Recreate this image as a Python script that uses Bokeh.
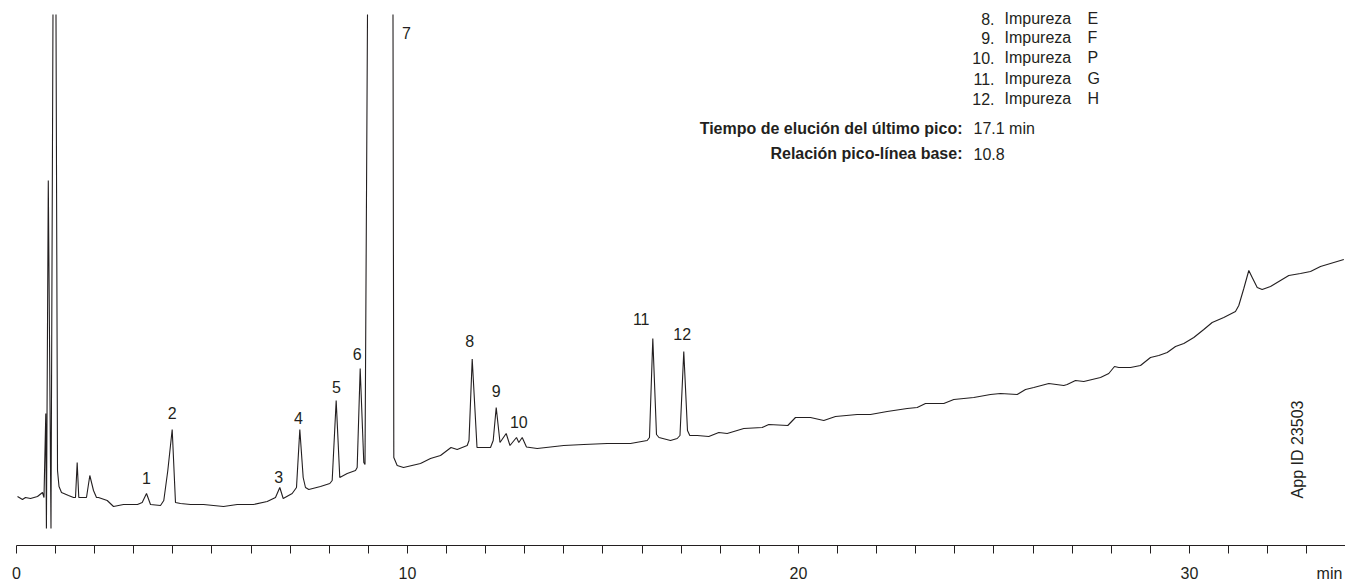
import math
from bokeh.plotting import figure
from bokeh.models import Range1d, FixedTicker, Label, ColumnDataSource
from bokeh.core.properties import value
from bokeh.embed import file_html
from bokeh.resources import INLINE

nan = float("nan")

# retention time (min) and detector signal (arbitrary units); NaN = peak off scale
time_min = [
    0.026, 0.153, 0.230, 0.358, 0.537, 0.665, 0.703, 0.749, 0.765, 0.813,
    0.882, 0.933, nan,
    1.010, 1.049, 1.087, 1.151, 1.330, 1.458, 1.509, 1.552, 1.593, 1.688,
    1.790, 1.875, 1.969, 2.046, 2.097, 2.320, 2.481, 2.737, 3.095, 3.215,
    3.325, 3.427, 3.683, 3.767, 3.870, 3.982, 4.066, 4.194, 4.450, 4.783,
    5.294, 5.645, 6.061, 6.412, 6.624, 6.734, 6.821, 7.051, 7.161, 7.246,
    7.332, 7.391, 7.476, 7.775, 8.013, 8.074, 8.176, 8.268, 8.458, 8.670,
    8.713, 8.790, 8.882, 8.913, 8.977, nan,
    9.629, 9.650, 9.736, 9.898, 10.332, 10.588, 10.844, 11.113, 11.271, 11.527,
    11.573, 11.655, 11.778, 12.123, 12.192, 12.269, 12.366, 12.524, 12.621, 12.788,
    12.847, 12.934, 13.043, 13.317, 13.997, 14.509, 15.107, 15.703, 16.130, 16.189,
    16.274, 16.368, 16.432, 16.726, 16.898, 16.969, 17.066, 17.161, 17.220, 17.409,
    17.706, 17.962, 18.176, 18.601, 19.072, 19.240, 19.726, 19.923, 20.307, 20.647,
    20.946, 21.501, 21.841, 22.268, 22.780, 23.036, 23.248, 23.716, 23.972, 24.483,
    24.910, 25.166, 25.593, 25.806, 26.018, 26.402, 26.785, 26.872, 27.084, 27.297,
    27.724, 27.936, 28.082, 28.192, 28.491, 28.747, 29.002, 29.215, 29.430, 29.642,
    29.855, 30.110, 30.366, 30.580, 30.877, 31.176, 31.261, 31.389, 31.517, 31.604,
    31.732, 31.859, 32.072, 32.327, 32.540, 32.839, 33.095, 33.350, 33.691, 33.947,
]
signal = [
    49, 46, 48, 47, 49, 53, 48, 132, 17, 365,
    17, 531, nan,
    531, 75, 59, 53, 50, 48, 48, 83, 48, 48,
    48, 70, 55, 48, 48, 45, 39, 41, 41, 43,
    52, 41, 40, 45, 75, 116, 43, 42, 41, 41,
    39, 41, 41, 44, 48, 58, 47, 52, 58, 116,
    68, 58, 56, 59, 62, 65, 145, 68, 72, 75,
    78, 177, 83, 81, 531, nan,
    531, 88, 80, 78, 82, 87, 90, 98, 96, 100,
    105, 186.5, 98, 98, 105, 138, 103, 112, 100, 108,
    103, 108, 98.5, 97, 100, 101, 102, 102, 105, 108,
    207, 111, 108, 105, 107, 110, 194, 115, 110, 110,
    109, 113, 112, 117, 118, 121, 120, 128, 128, 125,
    129, 131, 131, 134, 137, 138, 142, 142, 146, 148,
    151, 152, 151, 156, 158, 162, 160, 161, 165, 164,
    168, 172, 179, 178, 178, 180, 188, 190, 193, 199,
    202, 208, 216, 223, 228, 234, 240, 257, 275, 268,
    258, 256, 259, 265, 270, 272, 274, 279, 283, 286,
]
assert len(time_min) == len(signal)

peak_ids = ["1", "2", "3", "4", "5", "6", "7", "8", "9", "10", "11", "12"]
peak_label_t = [3.325, 3.982, 6.708, 7.212, 8.184, 8.713, 9.974, 11.593, 12.269, 12.847, 15.977, 17.026]
peak_label_s = [68, 133, 69, 128, 159, 192, 513, 205, 155, 123.5, 227, 212]

legend_nums = ["8.", "9.", "10.", "11.", "12."]
legend_names = ["Impureza", "Impureza", "Impureza", "Impureza", "Impureza"]
legend_letters = ["E", "F", "P", "G", "H"]
info_keys = ["Tiempo de elución del último pico:", "Relación pico-línea base:"]
info_vals = ["17.1 min", "10.8"]

major_ticks = [0, 10, 20, 30]
tick_labels = ["0", "10", "20", "30"]
minor_ticks = list(range(0, 34))
unit_pos = 33.58

FONT = "Liberation Sans"
INK = "#231f20"

p = figure(width=1345, height=585, output_backend="svg", toolbar_location=None,
           x_range=Range1d(0, 33.99), y_range=Range1d(0, 545),
           y_axis_location=None,
           min_border_left=16, min_border_right=0, min_border_top=0, min_border_bottom=40)
p.grid.visible = False
p.outline_line_color = None
p.background_fill_color = "white"
p.border_fill_color = "white"

src = ColumnDataSource(dict(t=time_min, s=signal))
p.line("t", "s", source=src, line_color=INK, line_width=1.1)

lbl = ColumnDataSource(dict(x=peak_label_t, y=peak_label_s, text=peak_ids))
p.text("x", "y", text="text", source=lbl, text_font=value(FONT), text_font_size="16px",
       text_color=INK, text_align="center", text_baseline="middle")

# x axis
ax = p.xaxis[0]
ax.ticker = FixedTicker(ticks=major_ticks + [unit_pos], minor_ticks=minor_ticks)
ov = {k: v for k, v in zip(major_ticks, tick_labels)}
ov[unit_pos] = "min"
ax.major_label_overrides = ov
ax.major_tick_out = 0
ax.major_tick_in = 0
ax.minor_tick_out = 8
ax.minor_tick_in = 0
ax.minor_tick_line_color = INK
ax.axis_line_color = INK
ax.axis_line_width = 1
ax.major_label_standoff = 11
ax.major_label_text_font = FONT
ax.major_label_text_font_size = "16px"
ax.major_label_text_color = INK

# top-right legend block
leg_baselines = [527, 508, 488, 467, 447]
for num, name, let, yb in zip(legend_nums, legend_names, legend_letters, leg_baselines):
    p.add_layout(Label(x=25.013, y=yb, text=num, text_font=FONT, text_font_size="16px",
                       text_color=INK, text_align="right", text_baseline="alphabetic"))
    p.add_layout(Label(x=25.269, y=yb, text=name, text_font=FONT, text_font_size="16px",
                       text_color=INK, text_align="left", text_baseline="alphabetic"))
    p.add_layout(Label(x=27.39, y=yb, text=let, text_font=FONT, text_font_size="16px",
                       text_color=INK, text_align="left", text_baseline="alphabetic"))

for key, val, yb in zip(info_keys, info_vals, [417, 392]):
    p.add_layout(Label(x=24.194, y=yb, text=key, text_font=FONT, text_font_size="16px",
                       text_font_style="bold", text_color=INK, text_align="right",
                       text_baseline="alphabetic"))
    p.add_layout(Label(x=24.476, y=yb, text=val, text_font=FONT, text_font_size="16px",
                       text_color=INK, text_align="left", text_baseline="alphabetic"))

p.add_layout(Label(x=32.76, y=96, text="App ID 23503", text_font=FONT, text_font_size="16px",
                   text_color=INK, angle=math.pi / 2, text_align="center",
                   text_baseline="middle"))

open("out.html", "w").write(file_html(p, INLINE))
